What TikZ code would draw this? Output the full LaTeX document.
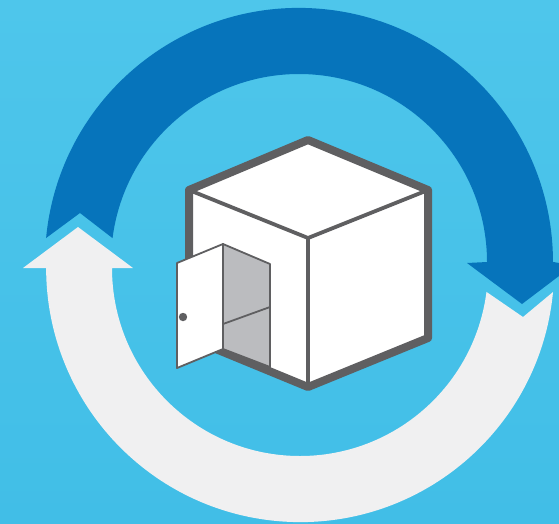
\documentclass[tikz,border=0pt]{standalone}
\usepackage{xcolor}
\usetikzlibrary{positioning}
\definecolor{skytop}{RGB}{78, 198, 235}
\definecolor{skylow}{RGB}{65, 190, 231}
\definecolor{arrowblue}{RGB}{6, 116, 187}
\definecolor{arrowwhite}{RGB}{240, 240, 241}
\definecolor{cubegray}{RGB}{95, 95, 97}
\definecolor{roomgray}{RGB}{187, 188, 191}

\begin{document}
\begin{tikzpicture}[
  x=1pt, y=1pt, yscale=-1,
  wall/.style = {draw=cubegray, fill=white, line width=8pt, line join=round},
  edge/.style = {draw=cubegray, line width=3.8pt},
  thin/.style = {draw=cubegray, line width=1.8pt, line join=round}
]

% ---- BACKGROUND ----
\shade[top color=skytop, bottom color=skylow] (0,0) rectangle (559,523);
\useasboundingbox (0,0) rectangle (559,523);

% ---- BLUE ARROW (top, pointing down on the right) ----
\coordinate (bluetailL) at (46.1,238);
\coordinate (bluenotch) at (80,213);
\coordinate (bluebarbL) at (467,263);
\coordinate (bluetip)   at (522,304);
\coordinate (bluebarbR) at (559,276);
\fill[arrowblue] (bluetailL) arc[start angle=185.4, end angle=360, radius=254]
  -- (559,263) -- (bluebarbR) -- (bluetip) -- (bluebarbL) -- (487,262)
  arc[start angle=360, end angle=187.3, radius=188]
  -- (bluenotch) -- cycle;

% ---- WHITE ARROW (bottom, pointing up on the left) ----
\coordinate (whitetip)   at (78,227);
\coordinate (whitebarbR) at (133,268);
\coordinate (whitebarbL) at (23,268);
\coordinate (whitenotch) at (523,317);
\fill[arrowwhite] (whitetip) -- (whitebarbR) -- (112,268)
  arc[start angle=180, end angle=7.3, radius=188]
  -- (whitenotch) -- (553,292)
  arc[start angle=5.4, end angle=180, radius=254]
  -- (whitebarbL) -- cycle;

% ---- CUBE ----
\coordinate (top)    at (308,140);
\coordinate (right)  at (428,190);
\coordinate (lower)  at (428,338);
\coordinate (bottom) at (308,387);
\coordinate (low)    at (189,338);
\coordinate (left)   at (189,190);
\coordinate (mid)    at (308,238);
\filldraw[wall] (top) -- (right) -- (lower) -- (bottom) -- (low) -- (left) -- cycle;
\draw[edge] (left) -- (mid) -- (right);
\draw[edge] (mid) -- (bottom);

% ---- ROOM OPENING AND DOOR ----
\coordinate (hingetop) at (223,244);
\coordinate (hingelow) at (223,349);
\filldraw[thin, fill=roomgray] (hingetop) -- (270,264) -- (270,367) -- (hingelow) -- cycle;
\draw[thin] (223,324) -- (270,307);
\filldraw[thin, fill=white] (hingetop) -- (177,263) -- (177,368) -- (hingelow) -- cycle;
\fill[cubegray] (183,317) circle[radius=4.2];

\end{tikzpicture}
\end{document}
